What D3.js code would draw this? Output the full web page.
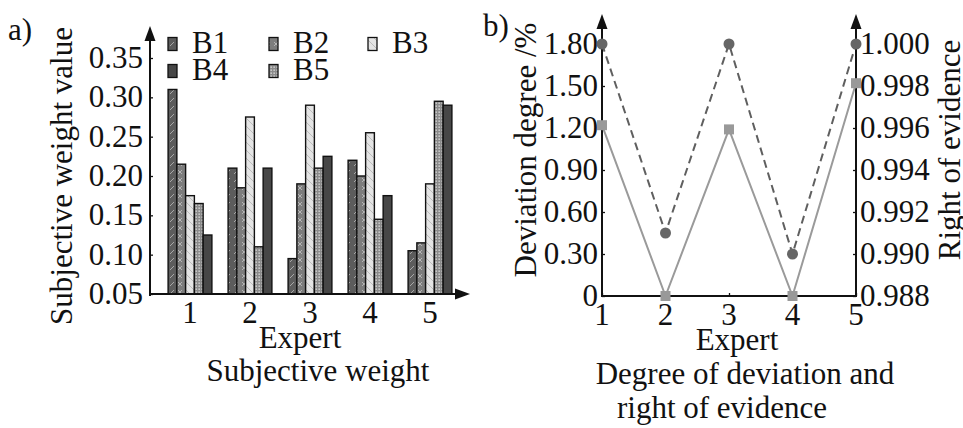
<!DOCTYPE html>
<html>
<head>
<meta charset="utf-8">
<script src="https://cdn.jsdelivr.net/npm/d3@7"></script>
<style>
  body { margin: 0; background: #fff; }
</style>
</head>
<body>
<svg id="chart" width="963" height="428"></svg>
<script>
// ---- data: panel a ----
let experts = [1, 2, 3, 4, 5];
let barSeries = ["B1", "B2", "B3", "B5", "B4"];   // order of bars inside a group
let legendOrder = ["B1", "B2", "B3", "B4", "B5"];
let B1 = [0.310, 0.210, 0.095, 0.220, 0.105];
let B2 = [0.215, 0.185, 0.190, 0.200, 0.115];
let B3 = [0.175, 0.275, 0.290, 0.255, 0.190];
let B4 = [0.125, 0.210, 0.225, 0.175, 0.290];
let B5 = [0.165, 0.110, 0.210, 0.145, 0.295];
let weightTicks = [0.05, 0.10, 0.15, 0.20, 0.25, 0.30, 0.35];

// ---- data: panel b ----
let deviation = [1.22, 0, 1.19, 0, 1.52];          // left axis, squares
let rightOfEvidence = [1.000, 0.991, 1.000, 0.990, 1.000]; // right axis, circles
let devTicks = [0, 0.30, 0.60, 0.90, 1.20, 1.50, 1.80];
let roeTicks = [0.988, 0.990, 0.992, 0.994, 0.996, 0.998, 1.000];

let values = {B1: B1, B2: B2, B3: B3, B4: B4, B5: B5};
let fs = 31;

let svg = d3.select("#chart")
  .style("font-family", "'Liberation Serif'")
  .style("fill", "#111");
let defs = svg.append("defs");

// fill patterns for bars
function pattern(id, bg, draw) {
  let p = defs.append("pattern").attr("id", id)
    .attr("patternUnits", "userSpaceOnUse").attr("width", 8).attr("height", 8);
  p.append("rect").attr("width", 8).attr("height", 8).attr("fill", bg);
  draw(p);
}
pattern("pB1", "#5c5c5c", p => p.append("path").attr("d", "M2,6 L6,2").attr("stroke", "#bbb").attr("stroke-width", 0.8));
pattern("pB2", "#7d7d7d", p => p.append("path").attr("d", "M2,2 L6,6 M6,2 L2,6").attr("stroke", "#c4c4c4").attr("stroke-width", 0.8));
pattern("pB3", "#e4e4e4", p => p.append("path").attr("d", "M0,0 L8,8").attr("stroke", "#aaa").attr("stroke-width", 0.7));
pattern("pB4", "#474747", p => {});
defs.append("pattern").attr("id", "pB5")
  .attr("patternUnits", "userSpaceOnUse").attr("width", 3).attr("height", 3)
  .call(p => {
    p.append("rect").attr("width", 3).attr("height", 3).attr("fill", "#8a8a8a");
    p.append("rect").attr("x", 0.5).attr("y", 0.5).attr("width", 1.3).attr("height", 1.3).attr("fill", "#e8e8e8");
  });

function arrow(g, x, y, dir) {
  // filled triangle, tip at (x,y)
  let pts = dir === "up"
    ? [[x, y], [x - 5.5, y + 15], [x + 5.5, y + 15]]
    : [[x, y], [x - 15, y - 5.5], [x - 15, y + 5.5]];
  g.append("path").attr("d", d3.line()(pts) + "Z").attr("fill", "#111");
}

// ================= panel a =================
let a = svg.append("g");
let xBand = d3.scaleBand().domain(experts).range([160, 460]).paddingInner(0.27).paddingOuter(0.135);
let xInner = d3.scaleBand().domain(barSeries).range([0, xBand.bandwidth()]);
let yW = d3.scaleLinear().domain([0.05, 0.35]).range([294, 58]);

a.append("text").attr("x", 8).attr("y", 40).attr("font-size", fs).text("a)");

// bars
experts.forEach((e, i) => {
  barSeries.forEach(s => {
    let v = values[s][i];
    a.append("rect")
      .attr("x", xBand(e) + xInner(s))
      .attr("y", yW(v))
      .attr("width", xInner.bandwidth())
      .attr("height", yW(0.05) - yW(v))
      .attr("fill", "url(#p" + s + ")")
      .attr("stroke", "#111").attr("stroke-width", 1.4);
  });
});

// axes
let yAxA = a.append("g").attr("transform", "translate(150,0)")
  .call(d3.axisRight(yW).tickValues(weightTicks).tickSize(3).tickFormat(""));
yAxA.select(".domain").remove();
yAxA.selectAll("line").attr("stroke", "#111").attr("stroke-width", 1.3);
a.append("line").attr("x1", 150).attr("x2", 150).attr("y1", 296).attr("y2", 36).attr("stroke", "#111").attr("stroke-width", 2);
a.append("line").attr("x1", 149).attr("x2", 458).attr("y1", 294).attr("y2", 294).attr("stroke", "#111").attr("stroke-width", 2);
arrow(a, 150, 26, "up");
arrow(a, 470, 294, "right");

a.selectAll(".ytl").data(weightTicks).join("text")
  .attr("x", 143).attr("y", d => yW(d) + 10).attr("text-anchor", "end").attr("font-size", fs)
  .text(d => d3.format(".2f")(d));
a.selectAll(".xtl").data(experts).join("text")
  .attr("x", d => xBand(d) + xBand.bandwidth() / 2).attr("y", 323).attr("text-anchor", "middle").attr("font-size", fs)
  .text(d => d);

a.append("text").attr("x", 300).attr("y", 348).attr("text-anchor", "middle").attr("font-size", fs).text("Expert");
a.append("text").attr("x", 318).attr("y", 381).attr("text-anchor", "middle").attr("font-size", fs).text("Subjective weight");
a.append("text").attr("transform", "translate(72,176) rotate(-90)").attr("text-anchor", "middle").attr("font-size", fs).text("Subjective weight value");

// legend
let legPos = [[168, 44], [269, 44], [368, 44], [168, 71], [269, 71]];
legendOrder.forEach((s, i) => {
  let [lx, ly] = legPos[i];
  a.append("rect").attr("x", lx).attr("y", ly - 6.5).attr("width", 9).attr("height", 13)
    .attr("fill", "url(#p" + s + ")").attr("stroke", "#111").attr("stroke-width", 1.3);
  a.append("text").attr("x", lx + 24).attr("y", ly + 9).attr("font-size", fs).text(s);
});

// ================= panel b =================
let b = svg.append("g");
let xL = d3.scaleLinear().domain([1, 5]).range([602, 856]);
let yDev = d3.scaleLinear().domain([0, 1.8]).range([296, 44]);
let yRoe = d3.scaleLinear().domain([0.988, 1.000]).range([296, 44]);

b.append("text").attr("x", 483).attr("y", 36).attr("font-size", fs).text("b)");

// axes lines
b.append("line").attr("x1", 602).attr("x2", 602).attr("y1", 297).attr("y2", 24).attr("stroke", "#111").attr("stroke-width", 2);
b.append("line").attr("x1", 856).attr("x2", 856).attr("y1", 297).attr("y2", 24).attr("stroke", "#111").attr("stroke-width", 2);
b.append("line").attr("x1", 601).attr("x2", 857).attr("y1", 296).attr("y2", 296).attr("stroke", "#111").attr("stroke-width", 2);
arrow(b, 602, 14, "up");
arrow(b, 856, 14, "up");

let lAx = b.append("g").attr("transform", "translate(602,0)")
  .call(d3.axisRight(yDev).tickValues(devTicks).tickSize(3).tickFormat(""));
lAx.select(".domain").remove();
lAx.selectAll("line").attr("stroke", "#111").attr("stroke-width", 1.3);
let rAx = b.append("g").attr("transform", "translate(856,0)")
  .call(d3.axisLeft(yRoe).tickValues(roeTicks).tickSize(3).tickFormat(""));
rAx.select(".domain").remove();
rAx.selectAll("line").attr("stroke", "#111").attr("stroke-width", 1.3);
let bAx = b.append("g").attr("transform", "translate(0,296)")
  .call(d3.axisTop(xL).tickValues(experts).tickSize(3).tickFormat(""));
bAx.select(".domain").remove();
bAx.selectAll("line").attr("stroke", "#111").attr("stroke-width", 1.3);

b.selectAll(".ltl").data(devTicks).join("text")
  .attr("x", 598).attr("y", d => yDev(d) + 10).attr("text-anchor", "end").attr("font-size", fs)
  .text(d => d === 0 ? "0" : d3.format(".2f")(d));
b.selectAll(".rtl").data(roeTicks).join("text")
  .attr("x", 860).attr("y", d => yRoe(d) + 10).attr("font-size", fs)
  .text(d => d3.format(".3f")(d));
b.selectAll(".btl").data(experts).join("text")
  .attr("x", d => xL(d)).attr("y", 325).attr("text-anchor", "middle").attr("font-size", fs)
  .text(d => d);

// lines
b.append("path").datum(deviation)
  .attr("d", d3.line().x((d, i) => xL(experts[i])).y(d => yDev(d)))
  .attr("fill", "none").attr("stroke", "#9a9a9a").attr("stroke-width", 2);
b.append("path").datum(rightOfEvidence)
  .attr("d", d3.line().x((d, i) => xL(experts[i])).y(d => yRoe(d)))
  .attr("fill", "none").attr("stroke", "#5f5f5f").attr("stroke-width", 2).attr("stroke-dasharray", "8,5");
b.selectAll(".sq").data(deviation).join("rect")
  .attr("x", (d, i) => xL(experts[i]) - 5).attr("y", d => yDev(d) - 5)
  .attr("width", 10).attr("height", 10).attr("fill", "#999");
b.selectAll(".ci").data(rightOfEvidence).join("circle")
  .attr("cx", (d, i) => xL(experts[i])).attr("cy", d => yRoe(d)).attr("r", 5.5).attr("fill", "#666");

b.append("text").attr("x", 737).attr("y", 350).attr("text-anchor", "middle").attr("font-size", fs).text("Expert");
b.append("text").attr("x", 745).attr("y", 384).attr("text-anchor", "middle").attr("font-size", fs).text("Degree of deviation and");
b.append("text").attr("x", 722).attr("y", 418).attr("text-anchor", "middle").attr("font-size", fs).text("right of evidence");
b.append("text").attr("transform", "translate(536,150) rotate(-90)").attr("text-anchor", "middle").attr("font-size", fs).text("Deviation degree /%");
b.append("text").attr("transform", "translate(960,150) rotate(-90)").attr("text-anchor", "middle").attr("font-size", fs).text("Right of evidence");
</script>
</body>
</html>
